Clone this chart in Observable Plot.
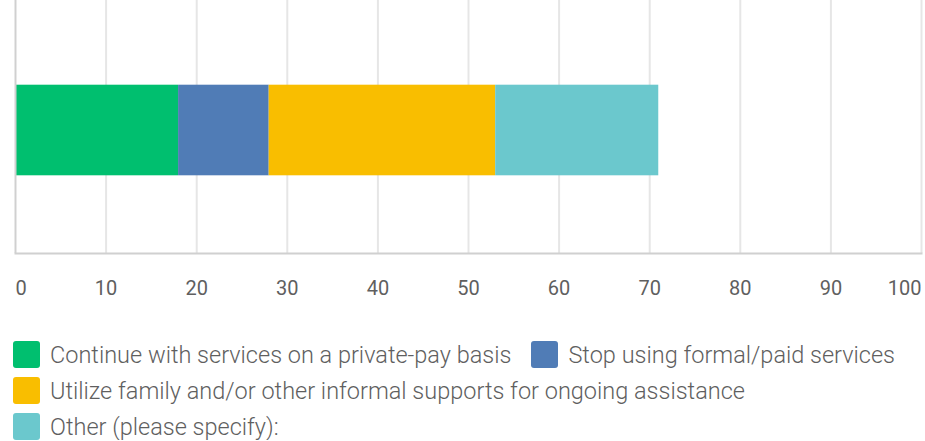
<!DOCTYPE html>
<html>
<head>
<meta charset="utf-8">
<script src="https://cdn.jsdelivr.net/npm/d3@7"></script>
<script src="https://cdn.jsdelivr.net/npm/@observablehq/plot@0.6"></script>
<style>
  body { margin: 0; background: #fff; font-family: Roboto, "Open Sans", sans-serif; }
  #chart svg { display: block; }
  .legend { display: flex; flex-wrap: wrap; width: 912px; margin-left: 13px; margin-top: 31px; row-gap: 9px; }
  .item { display: flex; align-items: center; margin-right: 20px; font-size: 23.5px; color: #5f5f5f; font-weight: 300; height: 27px; white-space: nowrap; }
  .sw { width: 27px; height: 27px; border-radius: 3px; margin-right: 10px; flex: none; }
</style>
</head>
<body>
<div id="chart"></div>
<div class="legend" id="legend"></div>
<script>
const categories = [
  "Continue with services on a private-pay basis",
  "Stop using formal/paid services",
  "Utilize family and/or other informal supports for ongoing assistance",
  "Other (please specify):"
];
const values = [18, 10, 25, 18];
const colors = ["#00bf6f", "#507cb6", "#f9be00", "#6bc8cd"];
const ticks = [0, 10, 20, 30, 40, 50, 60, 70, 80, 90, 100];

const data = categories.map((c, i) => ({category: c, value: values[i], row: "r"}));

const tickText = (subset, anchor) => Plot.text(subset, {
  x: d => d,
  frameAnchor: "bottom",
  lineAnchor: "middle",
  dy: 35,
  text: d => String(d),
  fontSize: 20,
  fill: "#5f5f5f",
  textAnchor: anchor
});

const chart = Plot.plot({
  width: 925,
  height: 310,
  marginLeft: 15,
  marginRight: 4,
  marginTop: 0,
  marginBottom: 57,
  style: {fontFamily: "Roboto, sans-serif"},
  x: {domain: [0, 100], axis: null},
  y: {domain: ["r"], padding: 0.4, axis: null},
  color: {domain: categories, range: colors},
  marks: [
    Plot.gridX(ticks.filter(t => t > 0), {stroke: "#e6e6e6", strokeOpacity: 1, strokeWidth: 2}),
    Plot.barX(data, {x: "value", y: "row", fill: "category", insetTop: 11.7, insetBottom: 5.7}),
    Plot.frame({anchor: "bottom", stroke: "#d0d0d0", strokeWidth: 2}),
    Plot.ruleX([0], {stroke: "#d0d0d0", strokeWidth: 2}),
    tickText(ticks.filter(t => t === 0), "start"),
    tickText(ticks.filter(t => t > 0 && t < 100), "middle"),
    tickText(ticks.filter(t => t === 100), "end")
  ]
});
document.getElementById("chart").appendChild(chart);

const legend = document.getElementById("legend");
categories.forEach((c, i) => {
  const it = document.createElement("div");
  it.className = "item";
  const sw = document.createElement("span");
  sw.className = "sw";
  sw.style.background = colors[i];
  const t = document.createElement("span");
  t.textContent = c;
  it.appendChild(sw);
  it.appendChild(t);
  legend.appendChild(it);
});
</script>
</body>
</html>
